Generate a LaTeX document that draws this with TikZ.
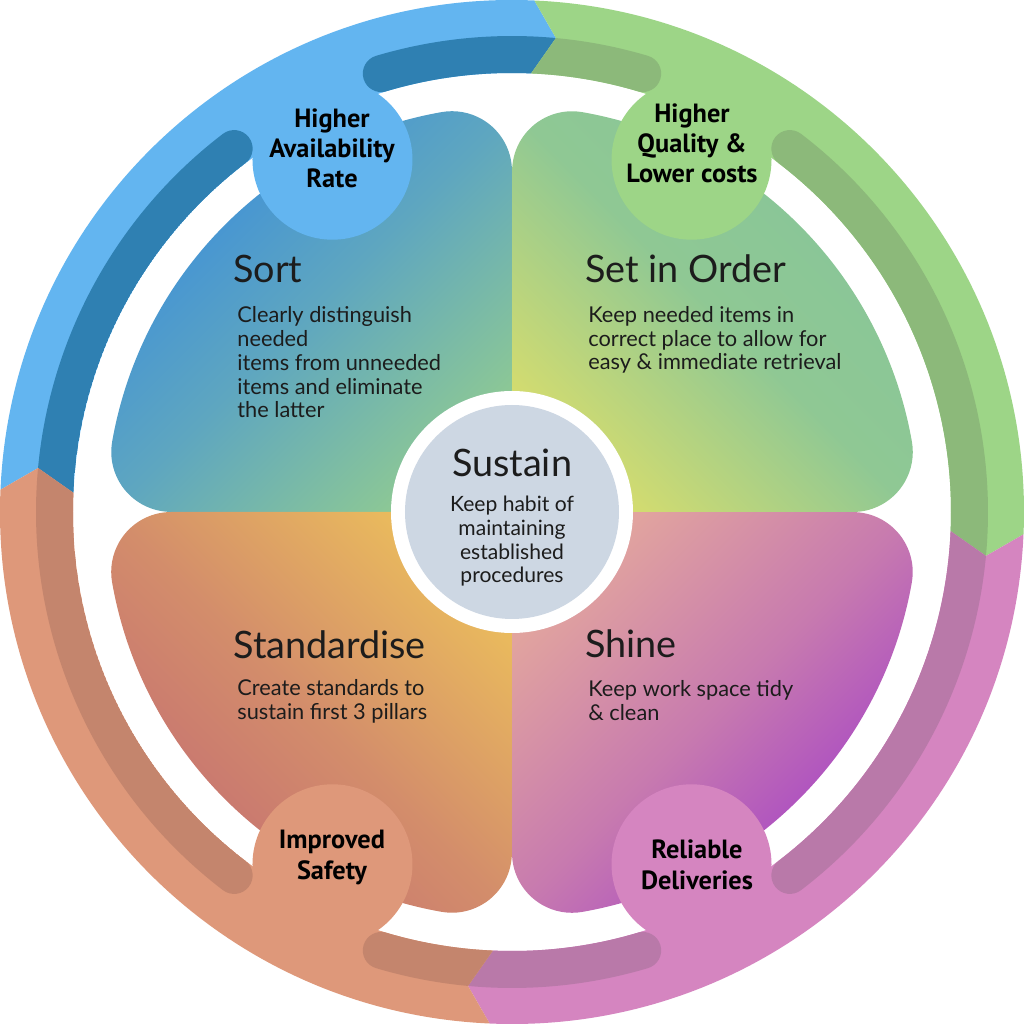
\documentclass[tikz,border=0pt]{standalone}
\usepackage{fontspec}
\setmainfont{Lato}
\newfontfamily\badgefont{PT Sans}

\definecolor{txt}{HTML}{1C1C1C}
\definecolor{blueL}{HTML}{63B5F0}
\definecolor{blueD}{HTML}{2F80B2}
\definecolor{greenL}{HTML}{9DD587}
\definecolor{greenD}{HTML}{8CB97A}
\definecolor{pinkL}{HTML}{D585C0}
\definecolor{pinkD}{HTML}{B979A9}
\definecolor{orangeL}{HTML}{DE987A}
\definecolor{orangeD}{HTML}{C4856D}
\definecolor{coreC}{HTML}{CDD7E3}
% petal gradients
\definecolor{sortA}{HTML}{3B8DDC}
\definecolor{sortM}{HTML}{5EA6C0}
\definecolor{sortB}{HTML}{8DC895}
\definecolor{orderA}{HTML}{87C599}
\definecolor{orderM}{HTML}{8FC894}
\definecolor{orderB}{HTML}{D4DC6F}
\definecolor{shineA}{HTML}{E2A59E}
\definecolor{shineM}{HTML}{C77AAF}
\definecolor{shineB}{HTML}{A23EC9}
\definecolor{stdA}{HTML}{EABB5D}
\definecolor{stdM}{HTML}{D38D6B}
\definecolor{stdB}{HTML}{C46E72}

% quarter disc with rounded outer corners, starting at angle #1
\newcommand\petalpath[1]{(0,0) -- (#1:340.8)
  arc[start angle=#1-90, end angle=#1+9.99, radius=60]
  arc[start angle=#1+9.99, end angle=#1+80.01, radius=406]
  arc[start angle=#1+80.01, end angle=#1+180, radius=60] -- cycle}

\begin{document}
\begin{tikzpicture}[x=0.02cm, y=0.02cm,
    title/.style={anchor=base west, inner sep=0, text=txt, font=\fontsize{21.5}{24}\selectfont},
    body/.style={anchor=base west, inner sep=0, text=txt, align=left, font=\fontsize{12.4}{13.6}\selectfont},
    badge/.style={anchor=base, inner sep=0, align=center, font=\badgefont\bfseries\fontsize{15}{17.3}\selectfont}]
  \useasboundingbox (-512,-512) rectangle (512,512);

  % outer ring, one sector per pillar
  \foreach \a/\ph/\cl/\cd in {87.5/117/blueL/blueD, -2.5/63/greenL/greenD, -92.5/-63/pinkL/pinkD, 177.5/243/orangeL/orangeD}{
    \begin{scope}
      \clip (\a:512) arc[start angle=\a, end angle=\a+90, radius=512] -- ({\a+87.2}:476)
        -- ({\a+90}:439) arc[start angle=\a+90, end angle=\a, radius=439] -- ({\a-2.8}:476) -- cycle;
      \fill[\cl] (0,0) circle[radius=520];
      \draw[\cd, line width=0.74cm, line cap=round] ({\ph+10.4}:457.5) arc[start angle=\ph+10.4, end angle=\a+100, radius=457.5];
      \draw[\cd, line width=0.74cm, line cap=round] ({\ph-10.4}:457.5) arc[start angle=\ph-10.4, end angle=\a-10, radius=457.5];
    \end{scope}
  }

  % petals
  \shade[top color=sortA, bottom color=sortB, middle color=sortM, shading angle=45] \petalpath{90};
  \shade[top color=orderA, bottom color=orderB, middle color=orderM, shading angle=-45] \petalpath{0};
  \shade[top color=shineA, bottom color=shineB, middle color=shineM, shading angle=45] \petalpath{270};
  \shade[top color=stdA, bottom color=stdB, middle color=stdM, shading angle=-45] \petalpath{180};

  % badges
  \foreach \ph/\cl in {117/blueL, 63/greenL, -63/pinkL, 243/orangeL}
    \fill[\cl] (\ph:395.4) circle[radius=80];

  % centre
  \fill[white] (0,0) circle[radius=121];
  \fill[coreC] (0,0) circle[radius=107];

  \node[badge] (avail) at (-180,324) {Higher\\Availability\\Rate};
  \node[badge] (quality) at (180,329) {Higher\\Quality \&\\Lower costs};
  \node[badge] (safety) at (-180,-367) {Improved\\Safety};
  \node[badge] (deliv) at (185,-377) {Reliable\\Deliveries};

  \node[title] (sort) at (-279,229) {Sort};
  \node[body] (sortTxt) at (-275,94) {Clearly distinguish\\needed\\items from unneeded\\items and eliminate\\the latter};
  \node[title] (order) at (73,229) {Set in Order};
  \node[body] (orderTxt) at (76,142) {Keep needed items in\\correct place to allow for\\easy \& immediate retrieval};
  \node[title] (std) at (-279,-146) {Standardise};
  \node[body] (stdTxt) at (-275,-207) {Create standards to\\sustain first 3 pillars};
  \node[title] (shine) at (73,-145) {Shine};
  \node[body] (shineTxt) at (76,-208) {Keep work space tidy\\\& clean};
  \node[title, anchor=base] (sustain) at (0,35) {Sustain};
  \node[body, anchor=base, align=center, font=\fontsize{12}{13.6}\selectfont] (sustainTxt) at (0,-71) {Keep habit of\\maintaining\\established\\procedures};
\end{tikzpicture}
\end{document}
